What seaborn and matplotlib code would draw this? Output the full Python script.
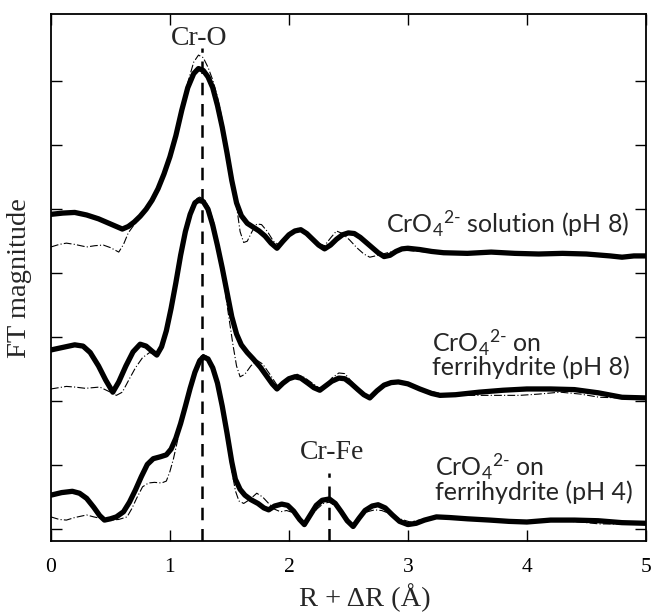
import numpy as np
import pandas as pd
import matplotlib
matplotlib.use("Agg")
import matplotlib.pyplot as plt
import seaborn as sns

# ---- data (R in Å, FT magnitude in arbitrary offset units) ----
# CrO4 2- solution (pH 8): data (thick) and fit (thin dash-dot)
r_sol = [0, 0.1, 0.2, 0.3, 0.4, 0.5, 0.6, 0.65, 0.7, 0.75, 0.8, 0.85, 0.9, 0.95, 1.0, 1.05, 1.1, 1.15,
         1.2, 1.24, 1.28, 1.32, 1.36, 1.40, 1.44, 1.48, 1.52, 1.56, 1.60, 1.65, 1.70, 1.75, 1.80, 1.85,
         1.90, 1.95, 2.0, 2.05, 2.1, 2.15, 2.2, 2.25, 2.3, 2.35, 2.4, 2.45, 2.5, 2.55, 2.6, 2.65, 2.7,
         2.75, 2.8, 2.85, 2.9, 2.95, 3.0, 3.1, 3.2, 3.3, 3.5, 3.7, 3.9, 4.1, 4.3, 4.5, 4.7, 4.8, 4.9, 5.0]
y_sol = [4.92, 4.94, 4.95, 4.91, 4.85, 4.77, 4.69, 4.73, 4.80, 4.89, 5.00, 5.14, 5.32, 5.55, 5.82, 6.15,
         6.55, 6.90, 7.12, 7.20, 7.17, 7.07, 6.90, 6.62, 6.28, 5.88, 5.45, 5.10, 4.90, 4.78, 4.72, 4.66,
         4.58, 4.47, 4.39, 4.50, 4.60, 4.66, 4.68, 4.62, 4.53, 4.44, 4.38, 4.44, 4.53, 4.60, 4.63, 4.62,
         4.56, 4.48, 4.40, 4.32, 4.26, 4.28, 4.34, 4.38, 4.39, 4.37, 4.34, 4.32, 4.31, 4.33, 4.31, 4.30,
         4.31, 4.30, 4.27, 4.25, 4.27, 4.27]

r_sol_fit = [0, 0.07, 0.13, 0.2, 0.3, 0.37, 0.44, 0.5, 0.57, 0.61, 0.65, 0.7, 0.75, 0.8, 0.85, 0.9, 0.95,
             1.0, 1.05, 1.1, 1.15, 1.2, 1.24, 1.28, 1.32, 1.36, 1.40, 1.44, 1.48, 1.52, 1.56, 1.59, 1.62,
             1.65, 1.69, 1.73, 1.77, 1.82, 1.87, 1.91, 1.96, 2.01, 2.07, 2.12, 2.18, 2.24, 2.3, 2.35, 2.4,
             2.45, 2.51, 2.57, 2.63, 2.68, 2.75, 2.85, 2.96, 3.1, 3.27, 3.5, 3.77, 4.0, 4.28, 4.5, 4.7, 5.0]
y_sol_fit = [4.41, 4.45, 4.47, 4.45, 4.41, 4.43, 4.44, 4.40, 4.33, 4.45, 4.63, 4.76, 4.86, 4.97, 5.10,
             5.33, 5.60, 5.85, 6.18, 6.58, 6.98, 7.30, 7.41, 7.37, 7.22, 7.02, 6.75, 6.40, 5.98, 5.55, 5.05,
             4.65, 4.48, 4.50, 4.65, 4.77, 4.76, 4.65, 4.50, 4.45, 4.55, 4.64, 4.70, 4.67, 4.56, 4.47, 4.43,
             4.55, 4.66, 4.62, 4.52, 4.40, 4.30, 4.25, 4.28, 4.33, 4.36, 4.34, 4.31, 4.31, 4.31, 4.30, 4.30,
             4.29, 4.28, 4.27]

# CrO4 2- on ferrihydrite (pH 8)
r_fh8 = [0, 0.1, 0.2, 0.27, 0.33, 0.4, 0.46, 0.52, 0.57, 0.63, 0.69, 0.75, 0.8, 0.85, 0.89, 0.93, 0.97,
         1.01, 1.05, 1.09, 1.13, 1.17, 1.21, 1.24, 1.28, 1.32, 1.36, 1.40, 1.44, 1.48, 1.52, 1.56, 1.60,
         1.65, 1.70, 1.76, 1.81, 1.86, 1.90, 1.95, 2.0, 2.05, 2.1, 2.16, 2.21, 2.26, 2.31, 2.36, 2.42,
         2.47, 2.52, 2.58, 2.63, 2.68, 2.74, 2.8, 2.86, 2.92, 3.0, 3.1, 3.2, 3.27, 3.4, 3.6, 3.8, 4.0,
         4.2, 4.4, 4.6, 4.8, 5.0]
y_fh8 = [2.80, 2.84, 2.88, 2.86, 2.76, 2.55, 2.33, 2.14, 2.30, 2.55, 2.77, 2.89, 2.86, 2.78, 2.72, 2.85,
         3.10, 3.45, 3.85, 4.28, 4.65, 4.92, 5.10, 5.14, 5.12, 5.00, 4.75, 4.43, 4.08, 3.70, 3.32, 3.05,
         2.88, 2.76, 2.66, 2.53, 2.40, 2.27, 2.19, 2.28, 2.35, 2.38, 2.36, 2.28, 2.21, 2.17, 2.24, 2.31,
         2.36, 2.35, 2.28, 2.18, 2.10, 2.05, 2.16, 2.25, 2.29, 2.30, 2.27, 2.19, 2.12, 2.09, 2.10, 2.14,
         2.17, 2.19, 2.19, 2.18, 2.13, 2.06, 2.05]

r_fh8_fit = [0, 0.13, 0.2, 0.29, 0.41, 0.5, 0.55, 0.6, 0.66, 0.71, 0.77, 0.83, 0.89, 0.93, 0.97, 1.02,
             1.06, 1.10, 1.14, 1.18, 1.22, 1.25, 1.29, 1.33, 1.37, 1.41, 1.45, 1.49, 1.53, 1.56, 1.59,
             1.63, 1.68, 1.73, 1.78, 1.84, 1.90, 1.95, 2.01, 2.07, 2.13, 2.19, 2.25, 2.30, 2.36, 2.42,
             2.47, 2.53, 2.6, 2.68, 2.75, 2.81, 2.9, 3.0, 3.1, 3.27, 3.45, 3.7, 3.94, 4.1, 4.28, 4.45,
             4.61, 4.8, 5.0]
y_fh8_fit = [2.19, 2.23, 2.22, 2.20, 2.22, 2.14, 2.09, 2.14, 2.35, 2.52, 2.68, 2.76, 2.72, 2.85, 3.15,
             3.62, 4.05, 4.48, 4.80, 5.03, 5.16, 5.19, 5.15, 5.02, 4.78, 4.40, 3.92, 3.38, 2.88, 2.55,
             2.38, 2.42, 2.55, 2.64, 2.58, 2.42, 2.25, 2.30, 2.38, 2.42, 2.37, 2.29, 2.21, 2.22, 2.36,
             2.44, 2.43, 2.30, 2.14, 2.06, 2.18, 2.25, 2.30, 2.26, 2.19, 2.12, 2.09, 2.09, 2.09, 2.11,
             2.14, 2.11, 2.06, 2.05, 2.05]

# CrO4 2- on ferrihydrite (pH 4)
r_fh4 = [0, 0.09, 0.18, 0.24, 0.3, 0.36, 0.41, 0.45, 0.5, 0.55, 0.61, 0.66, 0.71, 0.76, 0.81, 0.86,
         0.92, 0.97, 1.01, 1.05, 1.09, 1.13, 1.17, 1.21, 1.25, 1.28, 1.32, 1.36, 1.40, 1.44, 1.48, 1.52,
         1.55, 1.59, 1.63, 1.68, 1.74, 1.79, 1.83, 1.88, 1.94, 1.99, 2.04, 2.09, 2.13, 2.18, 2.23, 2.28,
         2.34, 2.39, 2.44, 2.49, 2.54, 2.59, 2.64, 2.7, 2.75, 2.81, 2.87, 2.93, 3.0, 3.07, 3.14, 3.24,
         3.35, 3.5, 3.69, 3.85, 4.0, 4.2, 4.4, 4.6, 4.8, 5.0]
y_fh4 = [0.53, 0.57, 0.59, 0.56, 0.48, 0.34, 0.21, 0.14, 0.16, 0.19, 0.27, 0.42, 0.61, 0.82, 1.01, 1.10,
         1.13, 1.16, 1.25, 1.42, 1.65, 1.92, 2.20, 2.45, 2.63, 2.69, 2.66, 2.52, 2.28, 1.92, 1.50, 1.05,
         0.78, 0.62, 0.53, 0.46, 0.40, 0.33, 0.30, 0.36, 0.39, 0.37, 0.28, 0.15, 0.07, 0.22, 0.37, 0.45,
         0.47, 0.40, 0.27, 0.13, 0.04, 0.17, 0.29, 0.36, 0.38, 0.33, 0.22, 0.12, 0.07, 0.09, 0.14, 0.19,
         0.18, 0.16, 0.14, 0.12, 0.11, 0.14, 0.14, 0.13, 0.10, 0.09]

r_fh4_fit = [0, 0.07, 0.13, 0.2, 0.3, 0.36, 0.41, 0.5, 0.57, 0.64, 0.68, 0.72, 0.77, 0.82, 0.87, 0.93,
             0.97, 1.0, 1.03, 1.06, 1.09, 1.13, 1.17, 1.21, 1.25, 1.28, 1.32, 1.36, 1.40, 1.44, 1.48,
             1.52, 1.55, 1.58, 1.62, 1.67, 1.73, 1.78, 1.83, 1.88, 1.93, 1.98, 2.03, 2.08, 2.13, 2.18,
             2.24, 2.29, 2.34, 2.40, 2.45, 2.5, 2.54, 2.6, 2.66, 2.72, 2.78, 2.85, 2.93, 3.02, 3.12, 3.27,
             3.45, 3.61, 3.8, 3.94, 4.1, 4.28, 4.45, 4.61, 4.8, 5.0]
y_fh4_fit = [0.19, 0.15, 0.14, 0.18, 0.22, 0.19, 0.17, 0.14, 0.15, 0.19, 0.32, 0.48, 0.66, 0.72, 0.73,
             0.72, 0.75, 0.90, 1.10, 1.35, 1.62, 1.92, 2.22, 2.50, 2.68, 2.73, 2.69, 2.55, 2.25, 1.85,
             1.38, 0.92, 0.60, 0.44, 0.40, 0.46, 0.56, 0.50, 0.40, 0.31, 0.27, 0.29, 0.26, 0.17, 0.11,
             0.20, 0.32, 0.40, 0.42, 0.35, 0.24, 0.13, 0.08, 0.18, 0.27, 0.30, 0.29, 0.24, 0.16, 0.11,
             0.15, 0.19, 0.16, 0.14, 0.12, 0.11, 0.12, 0.13, 0.11, 0.08, 0.08, 0.09]

peak_labels = ["Cr-O", "Cr-Fe"]
peak_r = [1.27, 2.34]
peak_top = [7.52, 0.87]
peak_label_r = [1.245, 2.36]
peak_label_y = [7.67, 1.19]

x_ticks = [0, 1, 2, 3, 4, 5]
y_ticks = [0, 1, 2, 3, 4, 5, 6, 7]

# ---- style ----
sns.set_style("ticks")
plt.rcParams["mathtext.fontset"] = "custom"
plt.rcParams["mathtext.rm"] = "Lato"
plt.rcParams["mathtext.it"] = "Lato:italic"
plt.rcParams["mathtext.bf"] = "Lato:bold"

fig = plt.figure(figsize=(6.53, 6.15), dpi=100)
ax = fig.add_axes([0.078, 0.120, 0.911, 0.857])

thick = dict(color="black", linewidth=3.8, solid_joinstyle="round", solid_capstyle="round")
thin = dict(color="black", linewidth=0.8)

for rs, ys, rf, yf in [(r_sol, y_sol, r_sol_fit, y_sol_fit),
                       (r_fh8, y_fh8, r_fh8_fit, y_fh8_fit),
                       (r_fh4, y_fh4, r_fh4_fit, y_fh4_fit)]:
    df_fit = pd.DataFrame({"R": rf, "FT": yf})
    sns.lineplot(data=df_fit, x="R", y="FT", ax=ax, **thin)
    ax.lines[-1].set_dashes((7, 2, 1, 2))
    df = pd.DataFrame({"R": rs, "FT": ys})
    sns.lineplot(data=df, x="R", y="FT", ax=ax, **thick)

ax.set_xlim(0, 5)
ax.set_ylim(-0.19, 8.05)

# peak marker lines and labels
for lab, pr, pt, lr, ly in zip(peak_labels, peak_r, peak_top, peak_label_r, peak_label_y):
    ax.plot([pr, pr], [-0.19, pt], color="black", linewidth=1.8, dashes=(5, 3.5), zorder=1)
    ax.text(lr, ly, lab, ha="center", va="center", fontsize=20, family="Liberation Serif")

lab_kw = dict(fontsize=18, family="Lato", ha="left", va="baseline")
sp = r"CrO$_4$$^{2\text{-}}$"
ax.text(2.82, 4.64, sp + " solution (pH 8)", **lab_kw)
ax.text(3.20, 2.77, sp + " on", **lab_kw)
ax.text(3.20, 2.41, "ferrihydrite (pH 8)", **lab_kw)
ax.text(3.23, 0.84, sp + " on", **lab_kw)
ax.text(3.23, 0.45, "ferrihydrite (pH 4)", **lab_kw)

ax.set_xticks(x_ticks)
ax.set_xticklabels([str(t) for t in x_ticks], fontsize=15.5, family="Liberation Serif")
ax.set_yticks(y_ticks)
ax.set_yticklabels([])
ax.tick_params(direction="in", length=8, width=1.0, top=True, right=True, colors="black")
ax.tick_params(axis="x", pad=12)

ax.set_xlabel("R + ΔR (Å)", fontsize=20.5, family="Liberation Serif")
ax.xaxis.set_label_coords(0.528, -0.108)
ax.xaxis.label.set_va("center")
ax.set_ylabel("FT magnitude", fontsize=20.5, family="Liberation Serif", labelpad=10)

for s in ax.spines.values():
    s.set_linewidth(1.3)
    s.set_color("black")

fig.savefig("out.png", dpi=100)
